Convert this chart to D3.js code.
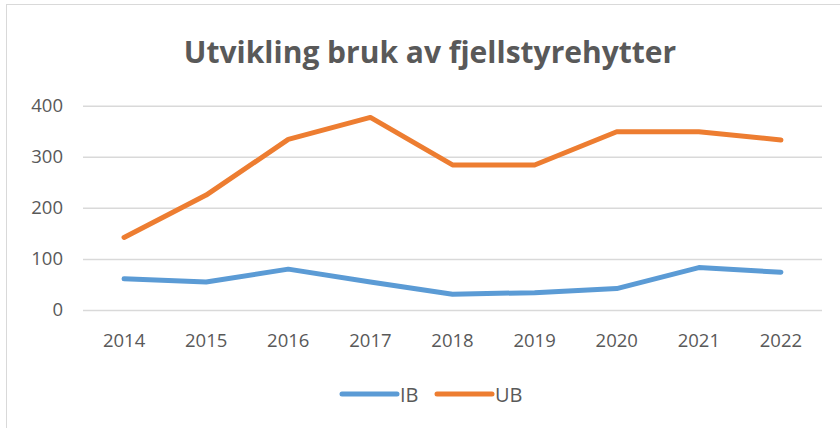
<!DOCTYPE html>
<html><head><meta charset="utf-8">
<script src="https://cdn.jsdelivr.net/npm/d3@7"></script>
<style>body{margin:0;background:#fff;} svg{display:block;}</style>
</head><body>
<svg id="c" width="840" height="428"></svg>
<script>
const years = ["2014","2015","2016","2017","2018","2019","2020","2021","2022"];
const ibValues = [61, 55, 80, 55, 31, 34, 42, 83, 74];
const ubValues = [142, 225, 334, 377, 284, 284, 349, 349, 333];
const yTicks = [0, 100, 200, 300, 400];
const seriesNames = ["IB", "UB"];
const seriesColors = ["#5B9BD5", "#ED7D31"];

const svg = d3.select("#c");
const font = "'Open Sans', 'Liberation Sans', sans-serif";
svg.append("rect").attr("x",6.5).attr("y",4.5).attr("width",840).attr("height",440)
  .attr("fill","#fff").attr("stroke","#d9d9d9").attr("stroke-width",1);

svg.append("text").attr("x",430).attr("y",63).attr("text-anchor","middle")
  .attr("font-family",font).attr("font-weight","bold").attr("font-size",30)
  .attr("fill","#595959").text("Utvikling bruk av fjellstyrehytter");

const x = d3.scaleBand().domain(years).range([83, 822]);
const y = d3.scaleLinear().domain([0, 400]).range([310, 105.7]);

const g = svg.append("g");
const yAxis = d3.axisLeft(y).tickValues(yTicks).tickSize(-(822-83)).tickPadding(20);
const ya = g.append("g").attr("transform","translate(83,0)").call(yAxis);
ya.select(".domain").remove();
ya.selectAll(".tick line").attr("stroke","#d9d9d9").attr("stroke-width",1.5);
ya.selectAll(".tick text").attr("font-family",font).attr("font-size",18.5).attr("fill","#595959");

const xAxis = d3.axisBottom(x).tickSize(0).tickPadding(24);
const xa = g.append("g").attr("transform","translate(0,310)").call(xAxis);
xa.select(".domain").remove();
xa.selectAll(".tick text").attr("font-family",font).attr("font-size",18.5).attr("fill","#595959");

const line = d3.line().x((d,i)=>x(years[i])+x.bandwidth()/2).y(d=>y(d));
[ibValues, ubValues].forEach((vals, k) => {
  g.append("path").datum(vals).attr("d", line).attr("fill","none")
    .attr("stroke", seriesColors[k]).attr("stroke-width",5)
    .attr("stroke-linecap","round").attr("stroke-linejoin","round");
});

const legendX = [342, 437];
seriesNames.forEach((name, k) => {
  svg.append("line").attr("x1",legendX[k]).attr("x2",legendX[k]+55).attr("y1",394).attr("y2",394)
    .attr("stroke",seriesColors[k]).attr("stroke-width",5).attr("stroke-linecap","round");
  svg.append("text").attr("x",legendX[k]+58).attr("y",401.5).attr("font-family",font)
    .attr("font-size",20).attr("fill","#595959").text(name);
});
</script>
</body></html>
